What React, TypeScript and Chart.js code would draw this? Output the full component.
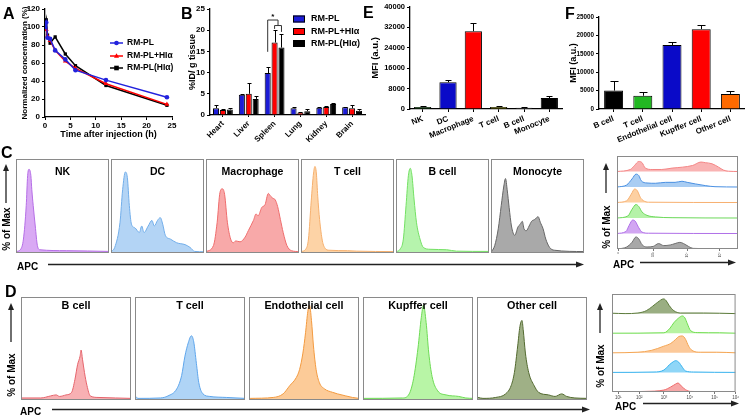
import React, { useEffect, useRef } from 'react';
import { Chart, registerables } from 'chart.js';
Chart.register(...registerables);

const FONT = '"Liberation Sans", Arial, sans-serif';

// ---------------- Panel A : pharmacokinetics ----------------
const pkTimes = [0, 0.25, 0.5, 1, 2, 4, 6, 12, 24];
const pkRmPl = [100, 105, 88, 87, 74, 64, 52, 41, 22];
const pkRmPlHi = [100, 97, 90, 85, 74, 62, 54, 37, 14];
const pkRmPlHiC = [100, 108, 91, 82, 89, 70, 57, 35, 13];
const seriesNames = ['RM-PL', 'RM-PL+HIα', 'RM-PL(HIα)'];

// ---------------- Panel B : biodistribution ----------------
const organs = ['Heart', 'Liver', 'Spleen', 'Lung', 'Kidney', 'Brain'];
const bioRmPl = [1.6, 4.8, 9.9, 1.6, 1.7, 1.8];
const bioRmPlErr = [0.7, 0.2, 1.5, 0.3, 0.3, 0.2];
const bioRmPlHi = [1.2, 5.0, 17.1, 0.6, 1.9, 1.6];
const bioRmPlHiErr = [0.3, 2.5, 3.0, 0.2, 0.2, 0.8];
const bioRmPlHiC = [1.3, 3.8, 15.9, 0.9, 2.6, 1.0];
const bioRmPlHiCErr = [0.4, 0.7, 3.2, 0.5, 0.2, 0.3];

// ---------------- Panel E : spleen cells MFI ----------------
const spleenCells = ['NK', 'DC', 'Macrophage', 'T cell', 'B cell', 'Monocyte'];
const spleenMfi = [800, 10500, 30500, 800, 500, 4300];
const spleenMfiErr = [300, 900, 3100, 200, 100, 700];
const spleenColors = ['#1b7a1b', '#0a0ac8', '#ff0000', '#b8b800', '#888888', '#000000'];

// ---------------- Panel F : liver cells MFI ----------------
const liverCells = ['B cell', 'T cell', 'Endothelial cell', 'Kupffer cell', 'Other cell'];
const liverMfi = [5000, 3600, 17400, 21700, 4100];
const liverMfiErr = [2600, 1000, 900, 1000, 900];
const liverColors = ['#000000', '#22b822', '#0a0ac8', '#ff0000', '#ff6a00'];

// ---------------- Panel C histograms (x: % of box width, y: % of max) ----------------
const cNkX = [0, 5, 8, 11, 12.5, 14, 16, 17, 18.5, 20.7, 23, 25.7, 54, 100];
const cNkY = [0.5, 3, 14, 50, 82, 89, 82, 67, 50, 28, 7, 2.5, 1.5, 0.7];
const cDcX = [0.7, 4, 9.7, 12.5, 15.4, 17.6, 19.7, 22, 25.8, 30.5, 33, 35.5, 40, 44, 46.6, 50, 53, 55.6, 58.4, 63.8, 70.6, 79.6, 85, 90, 100];
const cDcY = [0.7, 5, 32, 67, 86, 80, 50, 30, 26, 21, 28, 21, 28, 34, 28, 34, 37, 30, 18, 14, 10, 8, 5, 0.7, 0.3];
const cMacX = [0, 8, 12, 15, 17.6, 20, 23, 26.5, 29.4, 32, 36.6, 42, 45.5, 51, 53.8, 56, 60, 63.5, 67, 69.5, 71.7, 74.5, 77, 80, 83, 87, 92, 100];
const cMacY = [0.5, 7, 32, 64, 68, 62, 32, 14, 10, 12, 11, 16, 23, 34, 41, 39, 48, 51, 63, 60, 58, 56, 49, 35, 21, 7, 1.5, 0.5];
const cTX = [0, 5, 8, 11, 13.5, 15, 16.5, 18, 20, 23, 26, 30, 50, 60, 100];
const cTY = [0.5, 3, 14, 55, 85, 92, 85, 60, 35, 12, 4, 2, 1.5, 1, 0.5];
const cBX = [0.7, 4.3, 7.9, 10.8, 13.3, 15.4, 17.2, 19.4, 22, 25.8, 29.4, 36.6, 54.5, 65, 100];
const cBY = [0.5, 3, 14, 50, 82, 90, 82, 57, 32, 14, 5, 3, 2.5, 1, 0.7];
const cMonoX = [0.7, 4, 7.8, 11, 13.8, 15.6, 17.4, 19.5, 22, 25.5, 29, 31.5, 33.7, 35.5, 38, 41, 43.6, 47, 50.7, 53, 56, 58.9, 63, 68, 100];
const cMonoY = [0.5, 7, 25, 50, 71, 79, 67, 48, 28, 18, 27, 30, 33, 25, 23, 28, 33, 35, 38, 32, 25, 14, 5, 2, 0.5];

// ---------------- Panel D histograms ----------------
const dBX = [0.6, 18, 27, 32, 35, 41, 46, 49, 51.5, 53.7, 54.6, 55.9, 57.7, 60, 63, 70, 86, 100];
const dBY = [1, 1, 3, 4, 2.5, 4, 6.5, 19, 34, 42, 48, 39, 26, 13, 3, 1.5, 1, 0.6];
const dTX = [0.6, 2.7, 23, 30, 38, 42.4, 45.4, 48.4, 51.3, 53.4, 55.8, 58, 61.8, 68, 83, 100];
const dTY = [2.5, 0.6, 1, 3, 10, 23, 42, 55, 62, 56, 35, 16, 5, 2.5, 1.5, 0.6];
const dEndoX = [1, 22, 31, 37, 43, 46, 49, 51.4, 53.5, 55, 56.8, 58.6, 61, 64, 68.5, 76, 80.5, 88, 94, 100];
const dEndoY = [0.6, 1.5, 5, 13, 21, 29, 45, 65, 86, 92, 77, 52, 29, 16, 10, 6.5, 5, 3, 1.5, 0.6];
const dKupX = [0, 36, 42, 46, 50, 53, 55, 57.4, 59.8, 62.8, 67.9, 75.4, 87, 93.4, 100];
const dKupY = [0.6, 1, 5, 20, 50, 80, 92, 75, 45, 22, 8, 4, 2.5, 1, 0.6];
const dOtherX = [1, 5.4, 17, 26, 31, 34, 37, 39, 40.9, 42, 44, 47, 52, 56, 65, 71, 77, 81.5, 89, 100];
const dOtherY = [1.5, 0.6, 1.5, 5, 13, 26, 52, 71, 77, 68, 45, 26, 13, 6.5, 4, 2.5, 5, 2.5, 1, 0.6];

// ---------------- Side overlay C (top -> bottom) ----------------
const sCRedX = [0, 11, 14.6, 18, 20.7, 23.4, 29, 37, 45.5, 54, 62.5, 69.4, 73, 78.5, 84, 88, 92, 100];
const sCRedY = [0, 13, 40, 65, 57, 22, 13, 13, 22, 28, 39, 61, 57, 50, 28, 9, 2, 0];
const sCBlueX = [0, 8, 12.4, 15.7, 18, 20, 24.8, 31.7, 40, 48, 53.7, 58, 64.7, 73, 81, 100];
const sCBlueY = [0, 13, 52, 83, 74, 41, 26, 24, 30, 30, 37, 30, 20, 9, 2, 0];
const sCOrangeX = [0, 8, 11.8, 14.6, 16.8, 19.3, 22, 26, 100];
const sCOrangeY = [0, 11, 54, 87, 76, 33, 11, 2, 0];
const sCGreenX = [0, 9, 12.4, 15.7, 18, 20.7, 24.8, 31.7, 45.5, 100];
const sCGreenY = [0, 13, 56, 87, 74, 39, 17, 7, 2, 0];
const sCPurpleX = [0, 7.4, 10, 13, 15, 18, 20.7, 26, 100];
const sCPurpleY = [0, 13, 52, 87, 80, 37, 9, 2, 0];
const sCGrayX = [0, 8, 12.4, 15.7, 18, 20.7, 24.8, 30, 34.4, 38.6, 44, 48, 52, 55, 59, 63, 100];
const sCGrayY = [0, 13, 43, 78, 65, 28, 13, 17, 35, 22, 26, 35, 43, 35, 17, 4, 0];
const sCTickPos = [1, 30, 58, 85];
const sCTickLabels = ['0', '10³', '10⁴', '10⁵'];

// ---------------- Side overlay D (top -> bottom) ----------------
const sDDkGreenX = [0, 10.6, 21, 27.8, 33, 37, 41.8, 43.7, 46.3, 50, 55.6, 74, 100];
const sDDkGreenY = [2, 0, 3, 15, 38, 58, 75, 67, 41, 15, 3, 3, 0];
const sDLtGreenX = [0, 42, 47, 50, 54, 57, 59, 61, 63.5, 69, 87, 100];
const sDLtGreenY = [0, 2, 26, 53, 78, 88, 78, 48, 14, 3, 2, 0];
const sDOrangeX = [0, 21, 31.7, 42, 47.6, 51.6, 54, 57, 59.5, 62, 64.8, 71.4, 84.7, 100];
const sDOrangeY = [0, 3, 12, 34, 48, 69, 83, 86, 69, 34, 12, 3, 3, 0];
const sDBlueX = [0, 34, 42, 46.3, 49.7, 51.6, 54, 57, 59.5, 66, 100];
const sDBlueY = [0, 2, 12, 38, 55, 60, 52, 26, 7, 2, 0];
const sDRedX = [0, 26.5, 42, 47.6, 51.6, 53.4, 56, 59.5, 63.5, 100];
const sDRedY = [0, 3, 10, 26, 41, 46, 31, 12, 3, 0];
const sDTickPos = [5, 22, 42, 63, 83, 100];
const sDTickLabels = ['10¹', '10²', '10³', '10⁴', '10⁵', '10⁶'];

// ---------------- plugins ----------------
function drawMarker(ctx: any, style: string, x: number, y: number, r: number, color: string) {
  ctx.fillStyle = color;
  ctx.beginPath();
  if (style === 'triangle') {
    ctx.moveTo(x, y - r * 1.2);
    ctx.lineTo(x + r * 1.1, y + r * 0.8);
    ctx.lineTo(x - r * 1.1, y + r * 0.8);
    ctx.closePath();
  } else if (style === 'rect') {
    ctx.rect(x - r, y - r, r * 2, r * 2);
  } else {
    ctx.arc(x, y, r, 0, Math.PI * 2);
  }
  ctx.fill();
}

const inlineLegend = {
  id: 'inlineLegend',
  afterDraw(chart: any, _a: any, o: any) {
    if (!o || !o.rows) return;
    const ctx = chart.ctx;
    ctx.save();
    ctx.font = `bold ${o.size}px ${FONT}`;
    ctx.textBaseline = 'middle';
    ctx.textAlign = 'left';
    chart.data.datasets.forEach((ds: any, i: number) => {
      const y = o.rows[i];
      if (o.kind === 'line') {
        ctx.strokeStyle = ds.borderColor;
        ctx.lineWidth = 1.5;
        ctx.beginPath();
        ctx.moveTo(o.x, y);
        ctx.lineTo(o.x + o.len, y);
        ctx.stroke();
        drawMarker(ctx, ds.pointStyle, o.x + o.len / 2, y, 2.3, ds.borderColor);
      } else {
        ctx.fillStyle = ds.backgroundColor;
        ctx.fillRect(o.x, y - o.h / 2, o.len, o.h);
        ctx.strokeStyle = '#000';
        ctx.lineWidth = 1;
        ctx.strokeRect(o.x + 0.5, y - o.h / 2 + 0.5, o.len - 1, o.h - 1);
      }
      ctx.fillStyle = '#000';
      ctx.fillText(ds.label, o.x + o.len + o.gap, y);
    });
    ctx.restore();
  },
};

const errorBars = {
  id: 'errorBars',
  afterDatasetsDraw(chart: any, _a: any, o: any) {
    const ctx = chart.ctx;
    const cap = (o && o.cap) || 4;
    ctx.save();
    ctx.strokeStyle = '#000';
    ctx.lineWidth = 1;
    chart.data.datasets.forEach((ds: any, i: number) => {
      if (!ds.errors) return;
      const meta = chart.getDatasetMeta(i);
      const ys = chart.scales[meta.yAxisID];
      meta.data.forEach((el: any, j: number) => {
        const e = ds.errors[j];
        if (!e) return;
        const top = Math.round(ys.getPixelForValue(ds.data[j] + e)) + 0.5;
        const x = Math.round(el.x) + 0.5;
        ctx.beginPath();
        ctx.moveTo(x, el.y);
        ctx.lineTo(x, top);
        ctx.moveTo(x - cap / 2, top);
        ctx.lineTo(x + cap / 2, top);
        ctx.stroke();
      });
    });
    ctx.restore();
  },
};

const sigBracket = {
  id: 'sigBracket',
  afterDatasetsDraw(chart: any, _a: any, o: any) {
    if (!o || o.index === undefined) return;
    const ctx = chart.ctx;
    const y = chart.scales.y;
    const b0 = chart.getDatasetMeta(0).data[o.index];
    const b1 = chart.getDatasetMeta(1).data[o.index];
    const b2 = chart.getDatasetMeta(2).data[o.index];
    const mid = (b1.x + b2.x) / 2;
    const yo = y.getPixelForValue(o.outer);
    const yi = y.getPixelForValue(o.inner);
    ctx.save();
    ctx.strokeStyle = '#333';
    ctx.lineWidth = 1;
    ctx.beginPath();
    ctx.moveTo(b0.x, y.getPixelForValue(o.leftFoot));
    ctx.lineTo(b0.x, yo);
    ctx.lineTo(mid, yo);
    ctx.lineTo(mid, yi);
    ctx.moveTo(b1.x, y.getPixelForValue(o.innerLeftFoot));
    ctx.lineTo(b1.x, yi);
    ctx.lineTo(b2.x, yi);
    ctx.lineTo(b2.x, y.getPixelForValue(o.innerRightFoot));
    ctx.stroke();
    ctx.fillStyle = '#000';
    ctx.font = `bold 8px ${FONT}`;
    ctx.textAlign = 'center';
    ctx.textBaseline = 'middle';
    ctx.fillText('*', (b0.x + mid) / 2, yo - 3);
    ctx.restore();
  },
};

const boxFrame = {
  id: 'boxFrame',
  afterDraw(chart: any, _a: any, o: any) {
    const { ctx, chartArea: ca } = chart;
    ctx.save();
    ctx.strokeStyle = (o && o.color) || '#8a8a8a';
    ctx.lineWidth = 1;
    ctx.strokeRect(ca.left + 0.5, ca.top + 0.5, ca.right - ca.left - 1, ca.bottom - ca.top - 1);
    ctx.restore();
  },
};

const boxTitle = {
  id: 'boxTitle',
  afterDraw(chart: any, _a: any, o: any) {
    if (!o || !o.text) return;
    const { ctx, chartArea: ca } = chart;
    ctx.save();
    ctx.font = `bold ${o.size}px ${FONT}`;
    ctx.fillStyle = '#000';
    ctx.textAlign = 'center';
    ctx.textBaseline = 'middle';
    ctx.fillText(o.text, (ca.left + ca.right) / 2, ca.top + o.offset);
    ctx.restore();
  },
};

// ---------------- config builders ----------------
const f = (size: number) => ({ family: FONT, size, weight: 'bold' as const });
const tickGrid = (len: number) => ({ display: true, drawOnChartArea: false, drawTicks: true, tickLength: len, color: '#000', lineWidth: 1 });
const axisBorder = { display: true, color: '#000', width: 1.3 };
const plain = (v: any) => String(v);

function pkConfig(): any {
  const mk = (vals: number[], i: number, color: string, style: string) => ({
    label: seriesNames[i],
    data: pkTimes.map((t, k) => ({ x: t, y: vals[k] })),
    borderColor: color,
    backgroundColor: color,
    pointStyle: style,
    pointRadius: style === 'triangle' ? 2.8 : 2.3,
    pointBorderWidth: 0,
    borderWidth: 1.5,
    tension: 0,
  });
  return {
    type: 'line',
    data: {
      datasets: [
        mk(pkRmPl, 0, '#2222dd', 'circle'),
        mk(pkRmPlHi, 1, '#ff0000', 'triangle'),
        mk(pkRmPlHiC, 2, '#000000', 'rect'),
      ],
    },
    options: {
      animation: false, responsive: false, events: [],
      layout: { padding: { left: 16, top: 9, right: 8, bottom: 0 } },
      plugins: {
        legend: { display: false }, tooltip: { enabled: false },
        inlineLegend: { kind: 'line', x: 110, len: 13, gap: 4, size: 8.5, rows: [43, 56, 68] },
      },
      scales: {
        x: {
          type: 'linear', min: 0, max: 25,
          ticks: { stepSize: 5, font: f(8), color: '#000', padding: 1, callback: plain },
          grid: tickGrid(3), border: axisBorder,
          title: { display: true, text: 'Time after injection (h)', font: f(9), color: '#000', padding: { top: 0, bottom: 0 } },
          afterFit: (s: any) => { s.height = 23; },
        },
        y: {
          min: 0, max: 120,
          ticks: { stepSize: 20, font: f(8), color: '#000', padding: 2, callback: plain },
          grid: tickGrid(3), border: axisBorder,
          title: { display: true, text: 'Normalized concentration (%)', font: f(8), color: '#000', padding: { top: 4, bottom: 0 } },
          afterFit: (s: any) => { s.width = 29; },
        },
      },
    },
    plugins: [inlineLegend],
  };
}

function bioConfig(): any {
  const mk = (i: number, vals: number[], errs: number[], color: string) => ({
    label: seriesNames[i], data: vals, errors: errs,
    backgroundColor: color, borderColor: '#000', borderWidth: 1,
    categoryPercentage: 0.8, barPercentage: 0.88,
  });
  return {
    type: 'bar',
    data: {
      labels: organs,
      datasets: [
        mk(0, bioRmPl, bioRmPlErr, '#1c1cd6'),
        mk(1, bioRmPlHi, bioRmPlHiErr, '#ff0000'),
        mk(2, bioRmPlHiC, bioRmPlHiCErr, '#000000'),
      ],
    },
    options: {
      animation: false, responsive: false, events: [],
      layout: { padding: { left: 3, top: 9, right: 1, bottom: 0 }, autoPadding: false },
      plugins: {
        legend: { display: false }, tooltip: { enabled: false },
        errorBars: { cap: 4 },
        inlineLegend: { kind: 'box', x: 113, len: 12, h: 7, gap: 6, size: 9, rows: [19, 31.5, 43.5] },
        sigBracket: { index: 2, outer: 22.4, inner: 21.1, leftFoot: 14.9, innerLeftFoot: 20.3, innerRightFoot: 19.6 },
      },
      scales: {
        x: {
          ticks: { font: f(8), color: '#000', padding: 2, minRotation: 45, maxRotation: 45, autoSkip: false },
          grid: { ...tickGrid(2), offset: false }, border: axisBorder,
          afterFit: (s: any) => { s.height = 30; },
        },
        y: {
          min: 0, max: 25,
          ticks: { stepSize: 5, font: f(8), color: '#000', padding: 2, callback: plain },
          grid: tickGrid(3), border: axisBorder,
          title: { display: true, text: '%ID/ g tissue', font: f(9), color: '#000', padding: { top: 4, bottom: 0 } },
          afterFit: (s: any) => { s.width = 27; },
        },
      },
    },
    plugins: [errorBars, inlineLegend, sigBracket],
  };
}

function mfiConfig(labels: string[], vals: number[], errs: number[], colors: string[], max: number, step: number,
  padLeft: number, yWidth: number, padTop: number, padRight: number, barPct: number, cap: number,
  tickSize: number, titleSize: number): any {
  return {
    type: 'bar',
    data: {
      labels,
      datasets: [{ data: vals, errors: errs, backgroundColor: colors, borderColor: '#000', borderWidth: 1, categoryPercentage: 1, barPercentage: barPct }],
    },
    options: {
      animation: false, responsive: false, events: [],
      layout: { padding: { left: padLeft, top: padTop, right: padRight, bottom: 0 }, autoPadding: false },
      plugins: { legend: { display: false }, tooltip: { enabled: false }, errorBars: { cap } },
      scales: {
        x: {
          ticks: { font: f(8), color: '#000', padding: 2, minRotation: 22, maxRotation: 22, autoSkip: false },
          grid: { ...tickGrid(3), offset: false }, border: axisBorder,
          afterFit: (s: any) => { s.height = 36; },
        },
        y: {
          min: 0, max,
          ticks: { stepSize: step, font: f(tickSize), color: '#000', padding: 2, callback: plain },
          grid: tickGrid(3), border: axisBorder,
          title: { display: true, text: 'MFI (a.u.)', font: f(titleSize), color: '#000', padding: { top: 4, bottom: 0 } },
          afterFit: (s: any) => { s.width = yWidth; },
        },
      },
    },
    plugins: [errorBars],
  };
}

function histConfig(xs: number[], ys: number[], fill: string, line: string, title: string, size: number, offset: number): any {
  return {
    type: 'line',
    data: {
      datasets: [{
        data: xs.map((x, i) => ({ x, y: ys[i] })),
        fill: 'origin', backgroundColor: fill, borderColor: line, borderWidth: 1,
        pointRadius: 0, cubicInterpolationMode: 'monotone',
      }],
    },
    options: {
      animation: false, responsive: false, events: [],
      layout: { padding: 0 },
      plugins: {
        legend: { display: false }, tooltip: { enabled: false },
        boxFrame: { color: '#8a8a8a' },
        boxTitle: { text: title, size, offset },
      },
      scales: {
        x: { type: 'linear', min: 0, max: 100, display: false },
        y: { min: -1, max: 100, display: false },
      },
    },
    plugins: [boxFrame, boxTitle],
  };
}

type Lane = { xs: number[]; ys: number[]; fill: string; line: string };

function stackConfig(lanes: Lane[], tickPos: number[], tickLabels: string[], rot: number, fontSize: number): any {
  const n = lanes.length;
  return {
    type: 'line',
    data: {
      datasets: lanes.map((l, i) => {
        const base = (n - 1 - i) * 100;
        return {
          data: l.xs.map((x, k) => ({ x, y: base + l.ys[k] })),
          fill: { value: base }, backgroundColor: l.fill, borderColor: l.line, borderWidth: 1,
          pointRadius: 0, cubicInterpolationMode: 'monotone',
        };
      }),
    },
    options: {
      animation: false, responsive: false, events: [],
      layout: { padding: 0, autoPadding: false },
      plugins: { legend: { display: false }, tooltip: { enabled: false }, boxFrame: { color: '#8a8a8a' } },
      scales: {
        x: {
          type: 'linear', min: 0, max: 100,
          afterBuildTicks: (s: any) => { s.ticks = tickPos.map((v) => ({ value: v })); },
          ticks: {
            font: { family: FONT, size: fontSize }, color: '#444', padding: 1,
            minRotation: rot, maxRotation: rot, autoSkip: false,
            callback: (_v: any, i: number) => tickLabels[i],
          },
          grid: { display: true, drawOnChartArea: false, drawTicks: true, tickLength: 2, color: '#777' },
          border: { display: false },
          afterFit: (s: any) => { s.height = 9; },
        },
        y: { min: 0, max: n * 100, display: false },
      },
    },
    plugins: [boxFrame],
  };
}

// ---------------- components ----------------
function ChartCanvas(props: { left: number; top: number; width: number; height: number; build: () => any }) {
  const ref = useRef<HTMLCanvasElement>(null);
  useEffect(() => {
    const chart = new Chart(ref.current as HTMLCanvasElement, props.build());
    return () => chart.destroy();
  }, []);
  return (
    <canvas
      ref={ref}
      width={props.width}
      height={props.height}
      style={{ position: 'absolute', left: props.left, top: props.top, width: props.width, height: props.height }}
    />
  );
}

const cHists = [
  { xs: cNkX, ys: cNkY, fill: '#d9a9f4', line: '#b56ee6', title: 'NK' },
  { xs: cDcX, ys: cDcY, fill: '#b3d4f5', line: '#72aeea', title: 'DC' },
  { xs: cMacX, ys: cMacY, fill: '#f8a9a9', line: '#ef6d6d', title: 'Macrophage' },
  { xs: cTX, ys: cTY, fill: '#fdd3a6', line: '#f6b06e', title: 'T cell' },
  { xs: cBX, ys: cBY, fill: '#b6f4ad', line: '#74e064', title: 'B cell' },
  { xs: cMonoX, ys: cMonoY, fill: '#a9a9a9', line: '#666666', title: 'Monocyte' },
];
const dHists = [
  { xs: dBX, ys: dBY, fill: '#f8b0b3', line: '#e5646c', title: 'B cell' },
  { xs: dTX, ys: dTY, fill: '#afd4f6', line: '#5fa6ec', title: 'T cell' },
  { xs: dEndoX, ys: dEndoY, fill: '#fccb98', line: '#f39a3f', title: 'Endothelial cell' },
  { xs: dKupX, ys: dKupY, fill: '#b8f5a6', line: '#6edb55', title: 'Kupffer cell' },
  { xs: dOtherX, ys: dOtherY, fill: '#9fb086', line: '#52692f', title: 'Other cell' },
];
const sideC: Lane[] = [
  { xs: sCRedX, ys: sCRedY, fill: '#f9b3b3', line: '#f48585' },
  { xs: sCBlueX, ys: sCBlueY, fill: '#a9cdf3', line: '#4a90e2' },
  { xs: sCOrangeX, ys: sCOrangeY, fill: '#fdd0a2', line: '#f7b070' },
  { xs: sCGreenX, ys: sCGreenY, fill: '#b5f2a8', line: '#6cd85a' },
  { xs: sCPurpleX, ys: sCPurpleY, fill: '#d2a6f2', line: '#b070e8' },
  { xs: sCGrayX, ys: sCGrayY, fill: '#a8a8a8', line: '#707070' },
];
const sideD: Lane[] = [
  { xs: sDDkGreenX, ys: sDDkGreenY, fill: '#9aae82', line: '#5b7a3a' },
  { xs: sDLtGreenX, ys: sDLtGreenY, fill: '#b8f3a2', line: '#6fdc4f' },
  { xs: sDOrangeX, ys: sDOrangeY, fill: '#fcc99a', line: '#f4a552' },
  { xs: sDBlueX, ys: sDBlueY, fill: '#8fd6f7', line: '#3ab3ee' },
  { xs: sDRedX, ys: sDRedY, fill: '#f7a8a8', line: '#ee6a6a' },
];

function Decor() {
  const txt = { fontFamily: FONT, fontWeight: 'bold' as const, fill: '#000' };
  const arrowUp = (x: number, y1: number, y2: number) => (
    <g>
      <line x1={x} y1={y1} x2={x} y2={y2 + 5} stroke="#222" strokeWidth={1.3} />
      <polygon points={`${x},${y2} ${x - 3},${y2 + 7} ${x + 3},${y2 + 7}`} fill="#222" />
    </g>
  );
  const arrowRight = (x1: number, x2: number, y: number) => (
    <g>
      <line x1={x1} y1={y} x2={x2 - 5} y2={y} stroke="#222" strokeWidth={1.3} />
      <polygon points={`${x2},${y} ${x2 - 8},${y - 3} ${x2 - 8},${y + 3}`} fill="#222" />
    </g>
  );
  const yLabel = (x: number, y: number) => (
    <text transform={`translate(${x},${y}) rotate(-90)`} textAnchor="middle" fontSize={10} style={txt}>% of Max</text>
  );
  return (
    <svg width={745} height={416} style={{ position: 'absolute', left: 0, top: 0, pointerEvents: 'none' }}>
      <text x={3} y={19} fontSize={16} style={txt}>A</text>
      <text x={181} y={19} fontSize={16} style={txt}>B</text>
      <text x={363} y={18} fontSize={16} style={txt}>E</text>
      <text x={565} y={19} fontSize={16} style={txt}>F</text>
      <text x={1} y={158} fontSize={16} style={txt}>C</text>
      <text x={5} y={297} fontSize={16} style={txt}>D</text>

      {arrowUp(6, 203, 164)}
      {yLabel(10, 229)}
      <text x={17} y={270} fontSize={10} style={txt}>APC</text>
      {arrowRight(48, 584, 264.5)}

      {arrowUp(11, 342, 303)}
      {yLabel(15, 375)}
      <text x={20} y={415} fontSize={10} style={txt}>APC</text>
      {arrowRight(52, 590, 409.5)}

      {arrowUp(606, 193, 163)}
      {yLabel(610, 227)}
      <text x={613} y={268} fontSize={10} style={txt}>APC</text>
      {arrowRight(640, 736, 262.5)}

      {arrowUp(600, 333, 303)}
      {yLabel(604, 366)}
      <text x={615} y={410} fontSize={10} style={txt}>APC</text>
      {arrowRight(643, 739, 403.5)}
    </svg>
  );
}

export default function App() {
  return (
    <div style={{ position: 'fixed', left: 0, top: 0, width: 745, height: 416, background: '#fff', overflow: 'hidden' }}>
      <ChartCanvas left={0} top={0} width={180} height={140} build={pkConfig} />
      <ChartCanvas left={180} top={0} width={186} height={145} build={bioConfig} />
      <ChartCanvas left={363} top={0} width={202} height={145}
        build={() => mfiConfig(spleenCells, spleenMfi, spleenMfiErr, spleenColors, 40000, 8000, 3, 44, 7, 3, 0.68, 6, 7.5, 9.5)} />
      <ChartCanvas left={550} top={0} width={195} height={145}
        build={() => mfiConfig(liverCells, liverMfi, liverMfiErr, liverColors, 25000, 5000, 14, 35, 17, 0, 0.65, 8, 6.3, 9)} />
      {cHists.map((h, i) => (
        <ChartCanvas key={'c' + i} left={16 + 95 * i} top={159} width={93} height={94}
          build={() => histConfig(h.xs, h.ys, h.fill, h.line, h.title, 10.5, 13)} />
      ))}
      {dHists.map((h, i) => (
        <ChartCanvas key={'d' + i} left={21 + 114 * i} top={297} width={110} height={103}
          build={() => histConfig(h.xs, h.ys, h.fill, h.line, h.title, 10.8, 9)} />
      ))}
      <ChartCanvas left={617} top={156} width={121} height={102}
        build={() => stackConfig(sideC, sCTickPos, sCTickLabels, 90, 3.5)} />
      <ChartCanvas left={612} top={294} width={128} height={107}
        build={() => stackConfig(sideD, sDTickPos, sDTickLabels, 0, 4.5)} />
      <Decor />
    </div>
  );
}
